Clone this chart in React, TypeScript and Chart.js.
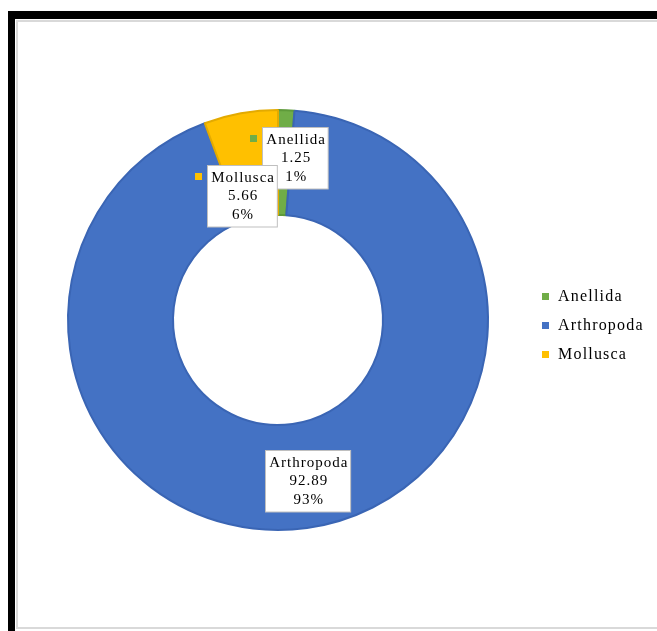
import React, { useEffect, useRef } from "react";
import { Chart, registerables } from "chart.js";

Chart.register(...registerables);

const categories = ["Anellida", "Arthropoda", "Mollusca"];
const values = [1.25, 92.89, 5.66];
const fillColors = ["#70AD47", "#4472C4", "#FFC000"];
const edgeColors = ["#5E9A3A", "#3A65B4", "#E3AA00"];
// label box offsets from each arc's centroid (px)
const labelOffsets = [
  [11, -5],
  [8, 5],
  [-8, 31],
];

const FONT = '"Liberation Serif", "Times New Roman", serif';

const labelPlugin = {
  id: "excelLabels",
  afterDraw(chart: any) {
    const ctx = chart.ctx;
    const meta = chart.getDatasetMeta(0);
    const data = chart.data.datasets[0].data as number[];
    const total = data.reduce((a, b) => a + b, 0);
    ctx.save();
    ctx.font = `15px ${FONT}`;
    ctx.letterSpacing = "1px";
    ctx.textAlign = "center";
    ctx.textBaseline = "middle";
    meta.data.forEach((arc: any, i: number) => {
      const pos = arc.tooltipPosition();
      const cx = pos.x + labelOffsets[i][0];
      const cy = pos.y + labelOffsets[i][1];
      const lines = [
        chart.data.labels[i],
        data[i].toFixed(2),
        Math.round((data[i] / total) * 100) + "%",
      ];
      const lh = 18.5;
      const w = Math.max(...lines.map((l: string) => ctx.measureText(l).width)) + 6;
      const h = lines.length * lh + 6;
      const x0 = Math.round(cx - w / 2) + 0.5;
      const y0 = Math.round(cy - h / 2) + 0.5;
      ctx.fillStyle = "#ffffff";
      ctx.fillRect(x0, y0, w, h);
      ctx.strokeStyle = "#bfbfbf";
      ctx.lineWidth = 1;
      ctx.strokeRect(x0, y0, w, h);
      ctx.fillStyle = fillColors[i];
      ctx.fillRect(Math.round(x0 - 13), Math.round(y0 + 7), 7, 7);
      ctx.fillStyle = "#000000";
      lines.forEach((l: string, k: number) => {
        ctx.fillText(l, cx + 1, y0 + 3 + lh / 2 + k * lh);
      });
    });
    // legend
    const area = chart.chartArea;
    const midY = (area.top + area.bottom) / 2;
    const lx = area.right + 53;
    ctx.textAlign = "left";
    ctx.font = `16px ${FONT}`;
    ctx.letterSpacing = "1.2px";
    categories.forEach((c, i) => {
      const y = midY - 23 + i * 29;
      ctx.fillStyle = fillColors[i];
      ctx.fillRect(lx, Math.round(y - 4), 7, 7);
      ctx.fillStyle = "#000000";
      ctx.fillText(c, lx + 16, y);
    });
    ctx.restore();
  },
};

export default function App() {
  const ref = useRef<HTMLCanvasElement>(null);
  useEffect(() => {
    if (!ref.current) return;
    const chart = new Chart(ref.current, {
      type: "doughnut",
      data: {
        labels: categories,
        datasets: [
          {
            data: values,
            backgroundColor: fillColors,
            borderColor: edgeColors,
            borderWidth: 2,
          },
        ],
      },
      options: {
        responsive: false,
        animation: false,
        cutout: "50%",
        layout: { padding: { left: 67, right: 168, top: 109, bottom: 100 } },
        plugins: {
          legend: { display: false },
          tooltip: { enabled: false },
        },
      },
      plugins: [labelPlugin],
    });
    return () => chart.destroy();
  }, []);

  return (
    <div style={{ position: "fixed", left: 0, top: 0, width: 657, height: 631, overflow: "hidden", background: "#fff" }}>
      <div
        style={{
          position: "absolute",
          left: 8,
          top: 11,
          width: 649,
          height: 620,
          boxSizing: "border-box",
          borderLeft: "7px solid #000",
          borderTop: "8px solid #000",
        }}
      />
      <div
        style={{
          position: "absolute",
          left: 16,
          top: 20,
          width: 660,
          height: 609,
          boxSizing: "border-box",
          border: "2px solid #d9d9d9",
        }}
      />
      <canvas ref={ref} width={657} height={631} style={{ position: "absolute", left: 0, top: 0 }} />
    </div>
  );
}
